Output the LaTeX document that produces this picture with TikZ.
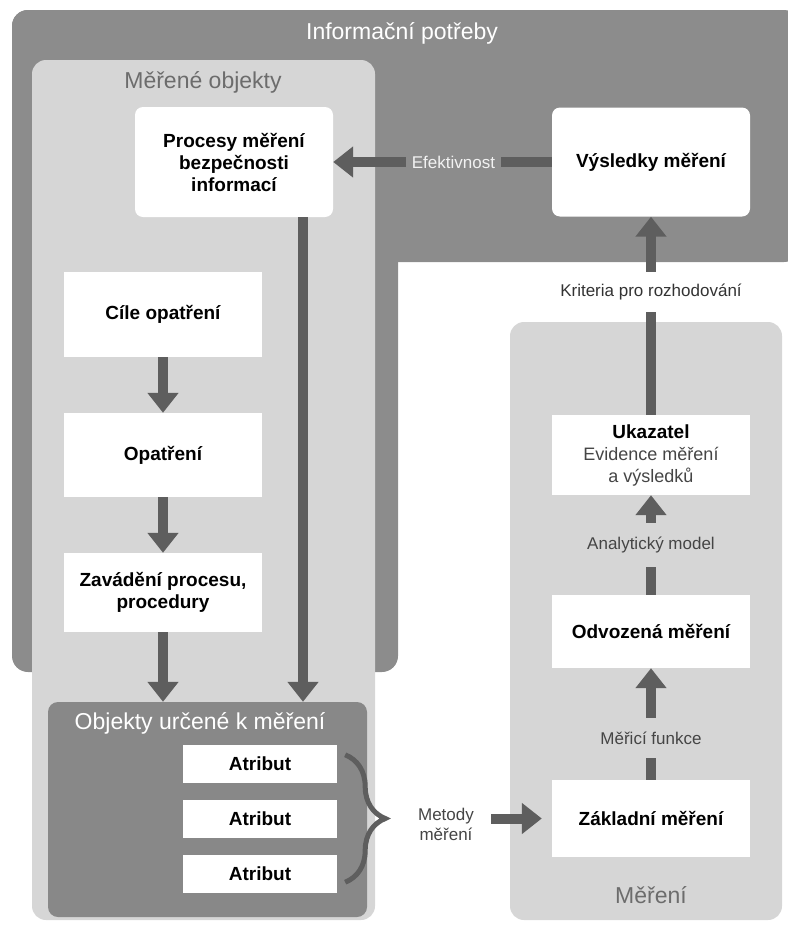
\documentclass[tikz,border=0pt]{standalone}
\usepackage{fontspec}
\setmainfont{Liberation Sans}
\usetikzlibrary{arrows.meta,decorations.pathreplacing}

\begin{document}
\begin{tikzpicture}[x=1pt, y=-1pt,
	box/.style={fill=white, minimum width=198pt, inner sep=0pt, align=center,
		font=\fontsize{19}{22}\selectfont\bfseries},
	bigarrow/.style={draw=arrowgray, line width=10pt,
		-{Triangle[width=30pt, length=20pt]}},
	lbl/.style={font=\fontsize{17}{20}\selectfont, text=labelgray, inner sep=0pt},
	title/.style={font=\fontsize{23}{26}\selectfont}]
	\definecolor{darkpanel}{HTML}{8C8C8C}
	\definecolor{lightpanel}{HTML}{D6D6D6}
	\definecolor{objgray}{HTML}{888888}
	\definecolor{arrowgray}{HTML}{5E5E5E}
	\definecolor{labelgray}{HTML}{454545}
	\definecolor{titlegray}{HTML}{6C6C6C}

	\useasboundingbox (0, 0) rectangle (787, 926);

	% 背景面板
	\fill[darkpanel, rounded corners=16pt] (12, 10) rectangle (398, 672);
	\fill[darkpanel, rounded corners=16pt] (12, 10) rectangle (800, 262);
	\fill[lightpanel, rounded corners=14pt] (32, 60) rectangle (375, 920);
	\fill[lightpanel, rounded corners=14pt] (510, 322) rectangle (782, 920);

	% 面板标题
	\node[title, text=white] (infotitle) at (402, 33) {Informační potřeby};
	\node[title, text=titlegray] (objtitle) at (203, 82) {Měřené objekty};
	\node[title, text=titlegray] (meretitle) at (651, 895) {Měření};

	% 左侧方框
	\node[box, rounded corners=8pt, minimum height=110pt] (procesy) at (234, 162)
		{Procesy měření\\bezpečnosti\\informací};
	\node[box, minimum height=85pt] (cile) at (163, 314.5) {Cíle opatření};
	\node[box, minimum height=84pt] (opatreni) at (163, 455) {Opatření};
	\node[box, minimum height=79pt] (zavadeni) at (163, 592.5)
		{Zavádění procesu,\\procedury};

	% 被测对象与属性
	\node[fill=objgray, rounded corners=10pt, minimum width=319pt,
		minimum height=215pt, inner sep=0pt] (objekty) at (207.5, 809.5) {};
	\node[title, text=white] (urcenetitle) at (200, 723) {Objekty určené k měření};
	\node[box, minimum width=154pt, minimum height=38pt] (atr1) at (260, 764) {Atribut};
	\node[box, minimum width=154pt, minimum height=38pt] (atr2) at (260, 819) {Atribut};
	\node[box, minimum width=154pt, minimum height=38pt] (atr3) at (260, 874) {Atribut};

	% 右侧方框
	\node[box, rounded corners=8pt, minimum height=109pt] (vysledky) at (651, 162)
		{Výsledky měření};
	\node[box, minimum height=80pt] (ukazatel) at (651, 455)
		{Ukazatel\\{\fontsize{18}{20}\selectfont\mdseries\color{labelgray}Evidence měření}\\
		{\fontsize{18}{20}\selectfont\mdseries\color{labelgray}a výsledků}};
	\node[box, minimum height=73pt] (odvozena) at (651, 631.5) {Odvozená měření};
	\node[box, minimum height=77pt] (zakladni) at (651, 818.5) {Základní měření};
	\node[lbl, align=center] (metody) at (446, 824) {Metody\\měření};

	% 箭头
	\draw[bigarrow] (cile) -- (opatreni);
	\draw[bigarrow] (opatreni) -- (zavadeni);
	\draw[bigarrow] (zavadeni) -- (zavadeni |- objekty.north);
	\draw[bigarrow] ([xshift=69pt]procesy.south) -- ([xshift=69pt]procesy.south |- objekty.north);
	\draw[bigarrow] (vysledky) -- node[lbl, pos=0.45, fill=darkpanel, text=white!90!gray,
		inner xsep=6pt, inner ysep=8pt] {Efektivnost} (procesy);
	\draw[bigarrow] (ukazatel) -- node[lbl, pos=0.62, fill=white, text=black!80,
		inner ysep=12pt] {Kriteria pro rozhodování} (vysledky);
	\draw[bigarrow] (odvozena) -- node[lbl, fill=lightpanel, inner ysep=14pt]
		{Analytický model} (ukazatel);
	\draw[bigarrow] (zakladni) -- node[lbl, pos=0.375, fill=lightpanel, inner ysep=14pt]
		{Měřicí funkce} (odvozena);
	\draw[bigarrow, shorten <=17pt, shorten >=10pt] (metody.east |- zakladni.west) -- (zakladni.west);

	% 花括号
	\draw[arrowgray, line width=5pt, decorate, decoration={brace, amplitude=40pt}]
		([xshift=8pt, yshift=-10pt]atr1.north east) -- ([xshift=8pt, yshift=11pt]atr3.south east);
\end{tikzpicture}
\end{document}
